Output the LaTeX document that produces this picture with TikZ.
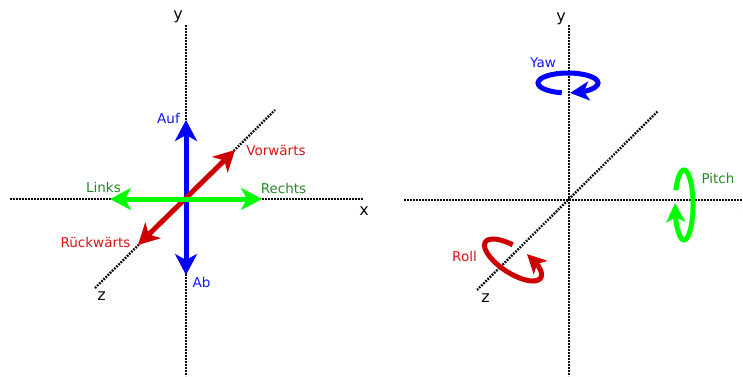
\documentclass[tikz,border=0pt]{standalone}
\usepackage{fontspec}
\setmainfont{DejaVu Sans}
\usetikzlibrary{arrows.meta,bending}
\definecolor{bl}{RGB}{0,0,255}
\definecolor{gr}{RGB}{0,255,0}
\definecolor{rd}{RGB}{204,0,0}
\definecolor{lblbl}{RGB}{20,20,255}
\definecolor{lblgr}{RGB}{38,138,38}
\definecolor{lblrd}{RGB}{214,20,20}
\definecolor{axcol}{RGB}{10,10,10}
\tikzset{
  axisline/.style={line width=2.4pt, axcol, dash pattern=on 1.7pt off 1.3pt},
  movearrow/.style={line width=5pt, {Stealth[length=21pt,width=22pt,inset=6pt]}-{Stealth[length=21pt,width=22pt,inset=6pt]}},
  rotarrow/.style={line width=5pt, -{Stealth[length=19pt,width=19pt,inset=5pt]}},
  lbl/.style={anchor=base, inner sep=0pt, font=\fontsize{13.5}{16}\selectfont},
  axlbl/.style={anchor=base, inner sep=0pt, font=\fontsize{16}{18}\selectfont, text=axcol}
}
\begin{document}
\begin{tikzpicture}[x=1pt,y=1pt]
\useasboundingbox (0,0) rectangle (743,376);
% ---------- left panel ----------
\coordinate (Ly1) at (186,351);
\coordinate (Ly2) at (186,0);
\coordinate (Lx1) at (10,177);
\coordinate (Lx2) at (363,177);
\coordinate (Lz1) at (95,88);
\coordinate (Lz2) at (275,266);
\draw[axisline] (Ly1) -- (Ly2);
\draw[axisline] (Lx1) -- (Lx2);
\draw[axisline] (Lz1) -- (Lz2);
\node[axlbl] (Lylab) at (178,357) {y};
\node[axlbl] (Lxlab) at (364,161) {x};
\node[axlbl] (Lzlab) at (101.5,76) {z};

\coordinate (auf) at (186,256);
\coordinate (ab) at (186,101);
\coordinate (links) at (110,177);
\coordinate (rechts) at (262,177);
\coordinate (vor) at (235,226);
\coordinate (rueck) at (138,131);
\draw[movearrow, bl] (ab) -- (auf);
\draw[movearrow, rd] (rueck) -- (vor);
\draw[movearrow, gr] (links) -- (rechts);

\node[lbl, text=lblbl] (auflab) at (168.5,253) {Auf};
\node[lbl, text=lblbl] (ablab) at (201.5,89) {Ab};
\node[lbl, text=lblgr] (linkslab) at (103.5,184) {Links};
\node[lbl, text=lblgr] (rechtslab) at (283.5,183) {Rechts};
\node[lbl, text=lblrd] (vorlab) at (276,221) {Vorwärts};
\node[lbl, text=lblrd] (ruecklab) at (95.5,129) {Rückwärts};

% ---------- right panel ----------
\coordinate (Ry1) at (569,351);
\coordinate (Ry2) at (569,0);
\coordinate (Rx1) at (404,176);
\coordinate (Rx2) at (743,176);
\coordinate (Rz1) at (477,86);
\coordinate (Rz2) at (658,265);
\draw[axisline] (Ry1) -- (Ry2);
\draw[axisline] (Rx1) -- (Rx2);
\draw[axisline] (Rz1) -- (Rz2);
\node[axlbl] (Rylab) at (561,355) {y};
\node[axlbl] (Rxlab) at (747,161) {x};
\node[axlbl] (Rzlab) at (485.5,74) {z};

% Yaw
\coordinate (yawc) at (568,293);
\draw[rotarrow, bl] (yawc) ++(258:30 and 10) arc[start angle=258, end angle=-86, x radius=30, y radius=10];
\node[lbl, text=lblbl] (yawlab) at (543,309) {Yaw};

% Pitch
\coordinate (pitchc) at (684,171);
\draw[rotarrow, gr] (pitchc) ++(155:9 and 35) arc[start angle=155, end angle=-183, x radius=9, y radius=35];
\node[lbl, text=lblgr] (pitchlab) at (718,193) {Pitch};

% Roll
\coordinate (rollc) at (513,116);
\begin{scope}[shift={(rollc)}, rotate=-33]
\draw[rotarrow, rd] (105:33 and 13) arc[start angle=105, end angle=435, x radius=33, y radius=13];
\end{scope}
\node[lbl, text=lblrd] (rolllab) at (464.5,115) {Roll};
\end{tikzpicture}
\end{document}
